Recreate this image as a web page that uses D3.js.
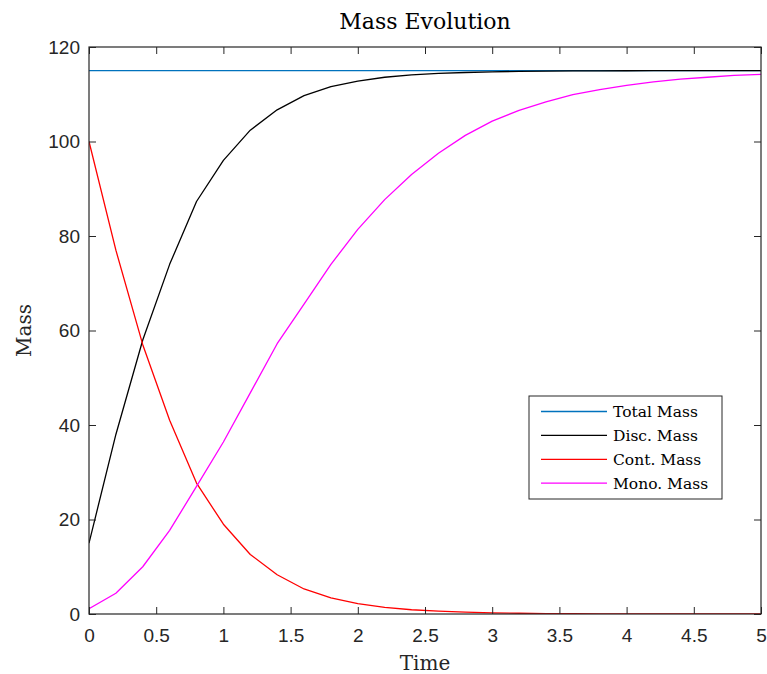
<!DOCTYPE html>
<html>
<head>
<meta charset="utf-8">
<script src="https://cdn.jsdelivr.net/npm/d3@7"></script>
<style>
  body { margin: 0; background: #fff; }
  svg { display: block; }
</style>
</head>
<body>
<script>
'use strict';

const WIDTH = 767;
const HEIGHT = 674;

const MARGIN = { top: 47, right: 6, bottom: 60, left: 89 };

const AXIS_COLOR = '#262626';
const TICK_LENGTH = 7;
const LINE_WIDTH = 1.3;

const SERIF = '"DejaVu Serif", "Liberation Serif", serif';
const SANS = '"Liberation Sans", Arial, sans-serif';

// Time samples, one every 0.2.
const TIME = [0, 0.2, 0.4, 0.6, 0.8, 1.0, 1.2, 1.4, 1.6, 1.8, 2.0, 2.2, 2.4,
              2.6, 2.8, 3.0, 3.2, 3.4, 3.6, 3.8, 4.0, 4.2, 4.4, 4.6, 4.8, 5.0];

const TOTAL_MASS = [115, 115, 115, 115, 115, 115, 115, 115, 115, 115, 115, 115, 115,
                    115, 115, 115, 115, 115, 115, 115, 115, 115, 115, 115, 115, 115];

const CONT_MASS = [100, 77, 57, 41, 27.7, 19, 12.6, 8.3, 5.3, 3.4, 2.2, 1.4, 0.9,
                   0.6, 0.4, 0.25, 0.16, 0.1, 0.07, 0.04, 0.03, 0.02, 0.01, 0.01, 0, 0];

const DISC_MASS = [15, 38, 58, 74, 87.3, 96, 102.4, 106.7, 109.7, 111.6, 112.8, 113.6, 114.1,
                   114.4, 114.6, 114.75, 114.84, 114.9, 114.93, 114.96, 114.97, 114.98, 114.99, 114.99, 115, 115];

const MONO_MASS = [1.1, 4.4, 10, 17.7, 27, 36.4, 46.8, 57.2, 65.6, 74, 81.4, 87.7, 93,
                   97.5, 101.3, 104.3, 106.6, 108.4, 109.9, 111, 111.9, 112.6, 113.2, 113.6, 114, 114.2];

const SERIES_NAMES = ['Total Mass', 'Disc. Mass', 'Cont. Mass', 'Mono. Mass'];
const SERIES_COLORS = ['#0072BD', '#000000', '#FF0000', '#FF00FF'];
const SERIES_VALUES = [TOTAL_MASS, DISC_MASS, CONT_MASS, MONO_MASS];

const X_TICKS = [0, 0.5, 1, 1.5, 2, 2.5, 3, 3.5, 4, 4.5, 5];
const Y_TICKS = [0, 20, 40, 60, 80, 100, 120];

const TITLE = 'Mass Evolution';
const X_LABEL = 'Time';
const Y_LABEL = 'Mass';

function main() {
    const plotWidth = WIDTH - MARGIN.left - MARGIN.right;
    const plotHeight = HEIGHT - MARGIN.top - MARGIN.bottom;

    const x = d3.scaleLinear().domain([0, 5]).range([MARGIN.left, MARGIN.left + plotWidth]);
    const y = d3.scaleLinear().domain([0, 120]).range([MARGIN.top + plotHeight, MARGIN.top]);

    const svg = d3.select('body')
            .append('svg')
            .attr('width', WIDTH)
            .attr('height', HEIGHT);

    svg.append('rect')
            .attr('width', WIDTH)
            .attr('height', HEIGHT)
            .attr('fill', '#fff');

    const x0 = x.range()[0], x1 = x.range()[1];
    const yBottom = y.range()[0], yTop = y.range()[1];

    // Series lines, clipped to the axes box.
    svg.append('clipPath')
            .attr('id', 'plot-clip')
            .append('rect')
            .attr('x', x0)
            .attr('y', yTop)
            .attr('width', x1 - x0)
            .attr('height', yBottom - yTop);

    const line = d3.line()
            .x((d, i) => x(TIME[i]))
            .y(d => y(d));

    svg.append('g')
            .attr('clip-path', 'url(#plot-clip)')
            .selectAll('path')
            .data(SERIES_VALUES)
            .enter()
            .append('path')
            .attr('d', line)
            .attr('fill', 'none')
            .attr('stroke', (d, i) => SERIES_COLORS[i])
            .attr('stroke-width', LINE_WIDTH)
            .attr('stroke-linejoin', 'round');

    const fmt = d => String(d);

    // Bottom axis with labels, ticks pointing inward.
    const bottomAxis = svg.append('g')
            .attr('transform', `translate(0,${yBottom})`)
            .call(d3.axisBottom(x).tickValues(X_TICKS).tickFormat(fmt)
                    .tickSizeInner(-TICK_LENGTH).tickSizeOuter(0).tickPadding(15));

    const topAxis = svg.append('g')
            .attr('transform', `translate(0,${yTop})`)
            .call(d3.axisTop(x).tickValues(X_TICKS).tickFormat('')
                    .tickSizeInner(-TICK_LENGTH).tickSizeOuter(0));

    const leftAxis = svg.append('g')
            .attr('transform', `translate(${x0},0)`)
            .call(d3.axisLeft(y).tickValues(Y_TICKS).tickFormat(fmt)
                    .tickSizeInner(-TICK_LENGTH).tickSizeOuter(0).tickPadding(9));

    const rightAxis = svg.append('g')
            .attr('transform', `translate(${x1},0)`)
            .call(d3.axisRight(y).tickValues(Y_TICKS).tickFormat('')
                    .tickSizeInner(-TICK_LENGTH).tickSizeOuter(0));

    [bottomAxis, topAxis, leftAxis, rightAxis].forEach(function(axis) {
        axis.select('.domain').remove();
        axis.selectAll('line').attr('stroke', AXIS_COLOR).attr('stroke-width', 1);
        axis.selectAll('text')
                .attr('fill', AXIS_COLOR)
                .style('font-family', SANS)
                .style('font-size', '19px');
    });

    // Axes box.
    svg.append('rect')
            .attr('x', x0)
            .attr('y', yTop)
            .attr('width', x1 - x0)
            .attr('height', yBottom - yTop)
            .attr('fill', 'none')
            .attr('stroke', AXIS_COLOR)
            .attr('stroke-width', 1.2);

    // Title and axis labels.
    svg.append('text')
            .attr('x', (x0 + x1) / 2)
            .attr('y', 29)
            .attr('text-anchor', 'middle')
            .style('font-family', SERIF)
            .style('font-size', '22px')
            .attr('fill', '#000')
            .text(TITLE);

    svg.append('text')
            .attr('x', (x0 + x1) / 2)
            .attr('y', 670)
            .attr('text-anchor', 'middle')
            .style('font-family', SERIF)
            .style('font-size', '20px')
            .attr('fill', AXIS_COLOR)
            .text(X_LABEL);

    svg.append('text')
            .attr('transform', `translate(31,${(yTop + yBottom) / 2}) rotate(-90)`)
            .attr('text-anchor', 'middle')
            .style('font-family', SERIF)
            .style('font-size', '20px')
            .attr('fill', AXIS_COLOR)
            .text(Y_LABEL);

    // Legend.
    const legend = svg.append('g')
            .attr('transform', 'translate(529,396)');

    legend.append('rect')
            .attr('width', 193)
            .attr('height', 103)
            .attr('fill', '#fff')
            .attr('stroke', AXIS_COLOR)
            .attr('stroke-width', 1);

    const rows = legend.selectAll('g.entry')
            .data(SERIES_NAMES)
            .enter()
            .append('g')
            .attr('class', 'entry')
            .attr('transform', (d, i) => `translate(0,${15.5 + i * 23.9})`);

    rows.append('line')
            .attr('x1', 12)
            .attr('x2', 78)
            .attr('stroke', (d, i) => SERIES_COLORS[i])
            .attr('stroke-width', LINE_WIDTH);

    rows.append('text')
            .attr('x', 84)
            .attr('y', 5.5)
            .style('font-family', SERIF)
            .style('font-size', '15.5px')
            .attr('fill', '#000')
            .text(d => d);
}

document.addEventListener('DOMContentLoaded', function(event) {
    main();
});
</script>
</body>
</html>
